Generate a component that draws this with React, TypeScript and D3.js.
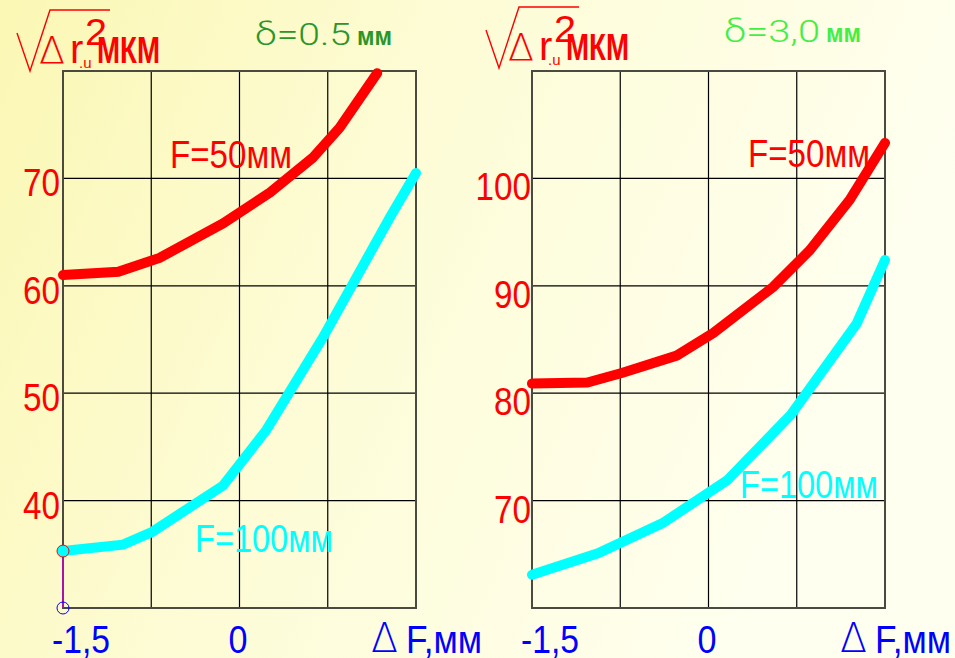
import * as d3 from "d3";

// x grid & ticks (ΔF, mm)
const gridX = [-1.5, -0.75, 0, 0.75, 1.5];
const xTickValues = [-1.5, 0];
const xTickLabels = ["-1,5", "0"];

// left panel: δ = 0.5 mm
const leftYTicks = [40, 50, 60, 70];
const leftX50 = [-1.5, -1.03, -0.68, -0.14, 0.26, 0.62, 0.85, 1.17];
const leftY50 = [61.0, 61.3, 62.6, 65.8, 68.7, 71.9, 74.7, 79.8];
const leftX100 = [-1.5, -0.99, -0.74, -0.14, 0.23, 0.71, 1.28, 1.5];
const leftY100 = [35.3, 35.9, 37.1, 41.4, 46.6, 55.2, 66.4, 70.5];

// right panel: δ = 3,0 mm
const rightYTicks = [70, 80, 90, 100];
const rightX50 = [-1.5, -1.03, -0.73, -0.27, 0.04, 0.55, 0.86, 1.2, 1.5];
const rightY50 = [80.9, 81.0, 81.9, 83.5, 85.6, 89.9, 93.3, 98.0, 103.3];
const rightX100 = [-1.5, -0.94, -0.39, 0.16, 0.7, 1.26, 1.5];
const rightY100 = [63.1, 65.1, 67.9, 71.9, 78.0, 86.5, 92.4];

const RED = "#ff0000";
const CYAN = "#00ffff";
const BLUE = "#0000ff";
const SANS = "'Liberation Sans', Arial, sans-serif";
const LIGHT = "Roboto, 'DejaVu Sans', sans-serif";
const THIN = "'DejaVu Sans', sans-serif";

type Pt = [number, number];
const zip = (xs: number[], ys: number[]): Pt[] => xs.map((x, i) => [x, ys[i]]);

interface PanelProps {
  left: number;
  yDomain: [number, number];
  yTicks: number[];
  f50: Pt[];
  f100: Pt[];
  delta: string;
  deltaColor: string;
  deltaBaseline: number;
  titleDy: number;
  label50: { dx: number; y: number };
  label100: { dx: number; y: number };
  tickEnd: number;
  tickDy: number;
  marker?: boolean;
}

const W = 353;
const TOP = 71;
const BOTTOM = 608;

function Panel(p: PanelProps) {
  const x = d3.scaleLinear().domain([-1.5, 1.5]).range([p.left, p.left + W]);
  const y = d3.scaleLinear().domain(p.yDomain).range([BOTTOM, TOP]);
  const line = d3.line<Pt>().x((d) => x(d[0])).y((d) => y(d[1]));
  const L = p.left;
  const t = p.titleDy;

  return (
    <g>
      {/* grid */}
      {gridX.slice(1, -1).map((v) => (
        <line key={"gx" + v} x1={x(v)} x2={x(v)} y1={TOP} y2={BOTTOM} stroke="#000" strokeWidth={1.2} />
      ))}
      {p.yTicks.map((v) => (
        <line key={"gy" + v} x1={L} x2={L + W} y1={y(v)} y2={y(v)} stroke="#000" strokeWidth={1.2} />
      ))}
      <rect x={L} y={TOP} width={W} height={BOTTOM - TOP} fill="none" stroke="#4a4a40" strokeWidth={2} />

      {/* y tick labels */}
      {p.yTicks.map((v) => {
        const s = String(v);
        const w = s.length * 18.5;
        return (
          <text key={"yt" + v} x={p.tickEnd - w} y={y(v) + p.tickDy} fill={RED} fontFamily={SANS}
            fontSize={38} textLength={w} lengthAdjust="spacingAndGlyphs">{s}</text>
        );
      })}

      {/* x tick labels */}
      {xTickValues.map((v, i) => {
        const s = xTickLabels[i];
        const w = s.length === 1 ? 19 : 58;
        return (
          <text key={"xt" + v} x={x(v) - 11} y={653} fill={BLUE} fontFamily={SANS} fontSize={38}
            textLength={w} lengthAdjust="spacingAndGlyphs">{s}</text>
        );
      })}
      <text x={L + 308} y={652} fill={BLUE} fontFamily={THIN} fontWeight={200} fontSize={40}
        textLength={27} lengthAdjust="spacingAndGlyphs">Δ</text>
      <text x={L + 343} y={653} fill={BLUE} fontFamily={SANS} fontSize={38}
        textLength={76} lengthAdjust="spacingAndGlyphs">F,мм</text>

      {/* y title: √(Δ r.u²) МКМ */}
      <path
        d={`M${L - 46},${33 + t} L${L - 33},${71 + t} L${L - 13},${10 + t} L${L + 47},${10 + t}`}
        fill="none" stroke={RED} strokeWidth={1.4} />
      <text x={L - 24} y={63 + t} fill={RED} fontFamily={THIN} fontWeight={200} fontSize={38}
        textLength={26} lengthAdjust="spacingAndGlyphs">Δ</text>
      <text x={L + 7} y={63 + t} fill={RED} fontFamily={SANS} fontSize={40}>r</text>
      <text x={L + 16} y={68 + t} fill={RED} fontFamily={SANS} fontSize={15}>.u</text>
      <text x={L + 34} y={63 + t} fill={RED} fontFamily={SANS} fontSize={36} fontWeight={700}
        textLength={63} lengthAdjust="spacingAndGlyphs">МКМ</text>
      <text x={L + 22} y={45 + t} fill={RED} fontFamily={SANS} fontSize={36}
        textLength={22} lengthAdjust="spacingAndGlyphs">2</text>

      {/* δ annotation */}
      <text x={L + 192} y={p.deltaBaseline} fill={p.deltaColor} fontFamily={LIGHT} fontWeight={300} fontSize={32}
        textLength={96} lengthAdjust="spacingAndGlyphs">{"δ=" + p.delta}</text>
      <text x={L + 294} y={p.deltaBaseline} fill={p.deltaColor} fontFamily={SANS} fontSize={26} fontWeight={700}
        textLength={35} lengthAdjust="spacingAndGlyphs">мм</text>

      {/* curves */}
      <path d={line(p.f100) ?? ""} fill="none" stroke={CYAN} strokeWidth={10}
        strokeLinecap="round" strokeLinejoin="miter" />
      <path d={line(p.f50) ?? ""} fill="none" stroke={RED} strokeWidth={10}
        strokeLinecap="round" strokeLinejoin="miter" />

      {p.marker && (
        <g>
          <line x1={x(p.f100[0][0])} x2={x(p.f100[0][0])} y1={y(p.f100[0][1])} y2={y(p.yDomain[0])}
            stroke="#cc00cc" strokeWidth={1.5} />
          <circle cx={x(p.f100[0][0])} cy={y(p.f100[0][1])} r={6} fill={CYAN} stroke={RED} strokeWidth={1} />
          <circle cx={x(p.f100[0][0])} cy={y(p.yDomain[0])} r={6} fill="none" stroke={BLUE} strokeWidth={1} />
        </g>
      )}

      {/* curve labels */}
      <text x={L + p.label50.dx} y={p.label50.y} fill={RED} fontFamily={SANS} fontSize={38}
        textLength={122} lengthAdjust="spacingAndGlyphs">F=50мм</text>
      <text x={L + p.label100.dx} y={p.label100.y} fill={CYAN} fontFamily={SANS} fontSize={38}
        textLength={138} lengthAdjust="spacingAndGlyphs">F=100мм</text>
    </g>
  );
}

export default function App() {
  return (
    <svg width={955} height={658} style={{ position: "absolute", left: 0, top: 0 }}>
      <defs>
        <linearGradient id="bg" x1="0" y1="0" x2="1" y2="0.3">
          <stop offset="0" stopColor="#fbf7b4" />
          <stop offset="0.45" stopColor="#fdfcd6" />
          <stop offset="1" stopColor="#fffff0" />
        </linearGradient>
      </defs>
      <rect width={955} height={658} fill="url(#bg)" />
      <Panel
        left={63}
        yDomain={[30, 80]}
        yTicks={leftYTicks}
        f50={zip(leftX50, leftY50)}
        f100={zip(leftX100, leftY100)}
        delta="0.5"
        deltaColor="#2a962a"
        deltaBaseline={45}
        titleDy={0}
        label50={{ dx: 107, y: 168 }}
        label100={{ dx: 132, y: 552 }}
        tickEnd={60}
        tickDy={18}
        marker
      />
      <Panel
        left={532}
        yDomain={[60, 110]}
        yTicks={rightYTicks}
        f50={zip(rightX50, rightY50)}
        f100={zip(rightX100, rightY100)}
        delta="3,0"
        deltaColor="#44ee44"
        deltaBaseline={42}
        titleDy={-3}
        label50={{ dx: 216, y: 167 }}
        label100={{ dx: 208, y: 498 }}
        tickEnd={531}
        tickDy={22}
      />
    </svg>
  );
}
